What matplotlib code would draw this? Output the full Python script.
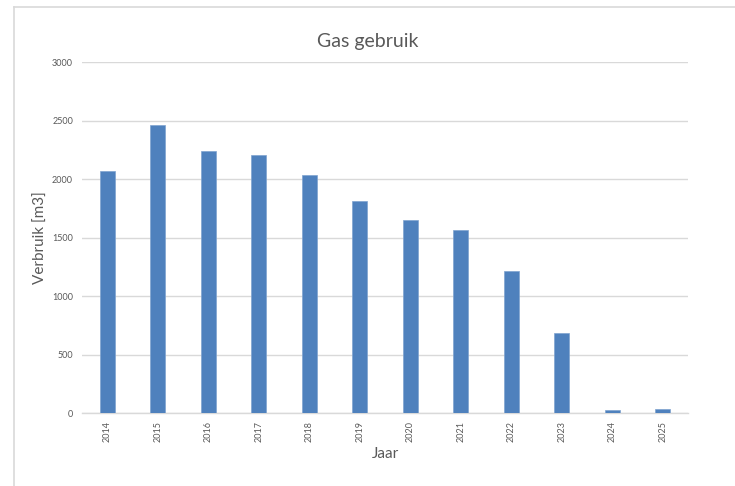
import matplotlib.pyplot as plt
from matplotlib.lines import Line2D

# data
jaren = ["2014", "2015", "2016", "2017", "2018", "2019",
         "2020", "2021", "2022", "2023", "2024", "2025"]
verbruik = [2070, 2465, 2240, 2205, 2035, 1812, 1650, 1564, 1212, 687, 28, 37]
y_ticks = [0, 500, 1000, 1500, 2000, 2500, 3000]

plt.rcParams["font.family"] = ["Lato", "DejaVu Sans"]

fig = plt.figure(figsize=(7.35, 4.86), dpi=100)
ax = fig.add_axes([0.1116, 0.1502, 0.8245, 0.7222])

# chart frame (only top and left visible in the screenshot)
frame_col = "#d9d9d9"
fig.add_artist(Line2D([14 / 735, 1], [1 - 7 / 486, 1 - 7 / 486], color=frame_col, lw=1.2))
fig.add_artist(Line2D([14 / 735, 14 / 735], [0, 1 - 7 / 486], color=frame_col, lw=1.2))

x = range(len(jaren))
ax.bar(x, verbruik, width=0.3, color="#4f81bd", edgecolor="#7fa3d0", linewidth=0.5, zorder=3)

ax.set_xlim(-0.5, len(jaren) - 0.5)
ax.set_ylim(0, 3000)
ax.set_yticks(y_ticks)
ax.set_xticks(list(x))
ax.set_xticklabels(jaren, rotation=90)
ax.tick_params(axis="both", length=0, labelsize=6.5, labelcolor="#595959")
ax.tick_params(axis="y", pad=6.5)
ax.tick_params(axis="x", pad=6)

ax.grid(axis="y", color="#d9d9d9", linewidth=1, zorder=0)
for side in ["top", "right", "left"]:
    ax.spines[side].set_visible(False)
ax.spines["bottom"].set_color("#d9d9d9")
ax.spines["bottom"].set_linewidth(1)

# title is centred on the whole chart frame, not on the plot area
ax.set_title("Gas gebruik", fontsize=14, color="#595959", pad=11, x=0.472)
ax.set_ylabel("Verbruik [m3]", fontsize=11, color="#595959")
ax.set_xlabel("Jaar", fontsize=11, color="#595959")
ax.yaxis.set_label_coords(-0.056, 0.5)
ax.xaxis.set_label_coords(0.5, -0.097)

fig.savefig("out.png", dpi=100)
